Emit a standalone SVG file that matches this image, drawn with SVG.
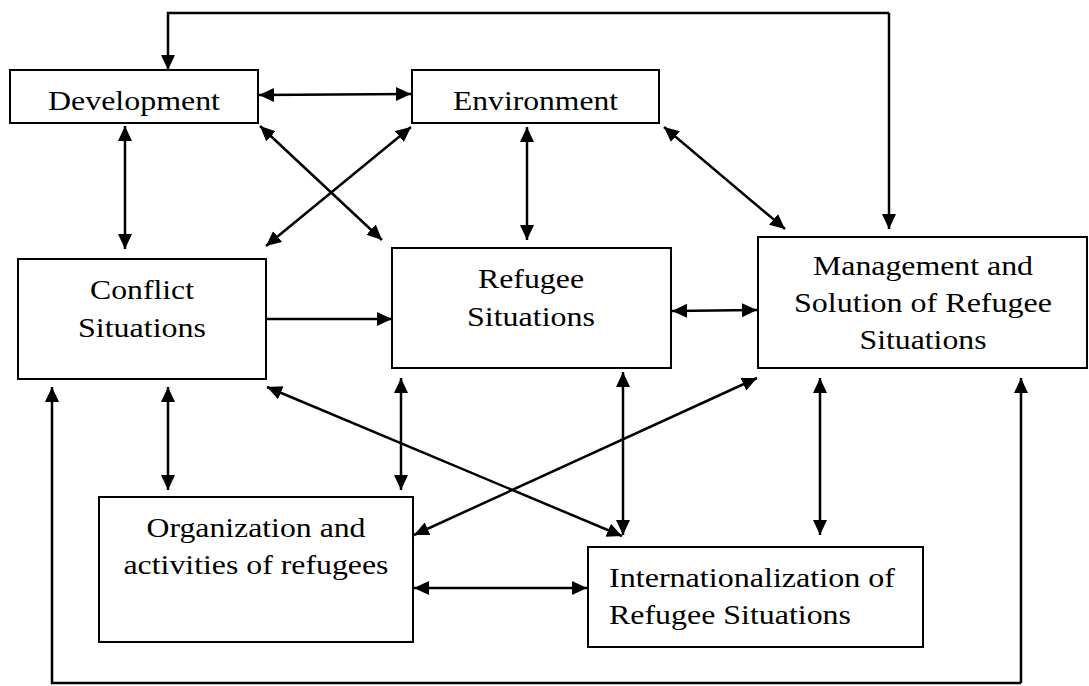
<svg xmlns="http://www.w3.org/2000/svg" width="1089" height="686" viewBox="0 0 1089 686">
<defs>
<marker id="ah" markerUnits="userSpaceOnUse" markerWidth="16" markerHeight="15" refX="15" refY="7" orient="auto-start-reverse" viewBox="0 0 16 15">
<path d="M0,0 L15,7 L0,14 z" fill="#000"/>
</marker>
<style>
.box{fill:#fff;stroke:#000;stroke-width:2}
.t{font-family:"Liberation Serif","Times New Roman",serif;font-size:27px;fill:#000}
.c{text-anchor:middle}
.ln{fill:none;stroke:#000;stroke-width:2.5}
.b{marker-start:url(#ah);marker-end:url(#ah)}
.e{marker-end:url(#ah)}
</style>
</defs>
<rect width="1089" height="686" fill="#fff"/>
<g id="connectors">
<polyline class="ln e" points="889,13 168,13 168,70"/>
<line class="ln e" x1="889" y1="13" x2="889" y2="229"/>
<line class="ln b" x1="259" y1="95" x2="411" y2="94"/>
<line class="ln b" x1="125" y1="126" x2="125" y2="249"/>
<line class="ln b" x1="260" y1="126" x2="382" y2="240"/>
<line class="ln b" x1="411" y1="127" x2="266" y2="246"/>
<line class="ln b" x1="527" y1="127" x2="527" y2="240"/>
<line class="ln b" x1="664" y1="127" x2="785" y2="229"/>
<line class="ln b" x1="672" y1="311" x2="757" y2="310"/>
<line class="ln e" x1="266" y1="319" x2="392" y2="319"/>
<line class="ln b" x1="168" y1="387" x2="168" y2="490"/>
<line class="ln b" x1="401" y1="378" x2="401" y2="490"/>
<line class="ln b" x1="267" y1="387" x2="622" y2="536"/>
<line class="ln b" x1="623" y1="372" x2="623" y2="535"/>
<line class="ln b" x1="757" y1="378" x2="414" y2="535"/>
<line class="ln b" x1="820" y1="378" x2="820" y2="535"/>
<line class="ln b" x1="414" y1="588" x2="587" y2="588"/>
<polyline class="ln e" points="1021,683 52,683 52,387"/>
<line class="ln e" x1="1021" y1="683" x2="1021" y2="378"/>
</g>
<g id="development">
<rect class="box" x="10" y="70" width="248" height="53"/>
<text class="t c" x="134" y="110" textLength="172" lengthAdjust="spacingAndGlyphs">Development</text>
</g>
<g id="environment">
<rect class="box" x="412" y="70" width="247" height="53"/>
<text class="t c" x="535.5" y="110" textLength="165" lengthAdjust="spacingAndGlyphs">Environment</text>
</g>
<g id="conflict">
<rect class="box" x="18" y="259" width="248" height="120"/>
<text class="t c" x="142" y="299" textLength="104" lengthAdjust="spacingAndGlyphs">Conflict</text>
<text class="t c" x="142" y="337" textLength="128" lengthAdjust="spacingAndGlyphs">Situations</text>
</g>
<g id="refugee">
<rect class="box" x="392" y="248" width="279" height="120"/>
<text class="t c" x="531" y="288" textLength="106" lengthAdjust="spacingAndGlyphs">Refugee</text>
<text class="t c" x="531" y="326" textLength="128" lengthAdjust="spacingAndGlyphs">Situations</text>
</g>
<g id="management">
<rect class="box" x="758" y="237" width="329" height="131"/>
<text class="t c" x="923" y="275" textLength="220" lengthAdjust="spacingAndGlyphs">Management and</text>
<text class="t c" x="923" y="312" textLength="258" lengthAdjust="spacingAndGlyphs">Solution of Refugee</text>
<text class="t c" x="923" y="349" textLength="127" lengthAdjust="spacingAndGlyphs">Situations</text>
</g>
<g id="organization">
<rect class="box" x="99" y="497" width="314" height="145"/>
<text class="t c" x="256" y="537" textLength="219" lengthAdjust="spacingAndGlyphs">Organization and</text>
<text class="t c" x="256" y="574" textLength="265" lengthAdjust="spacingAndGlyphs">activities of refugees</text>
</g>
<g id="internationalization">
<rect class="box" x="588" y="547" width="335" height="100"/>
<text class="t" x="609" y="587" textLength="286" lengthAdjust="spacingAndGlyphs">Internationalization of</text>
<text class="t" x="609" y="624" textLength="242" lengthAdjust="spacingAndGlyphs">Refugee Situations</text>
</g>
</svg>
